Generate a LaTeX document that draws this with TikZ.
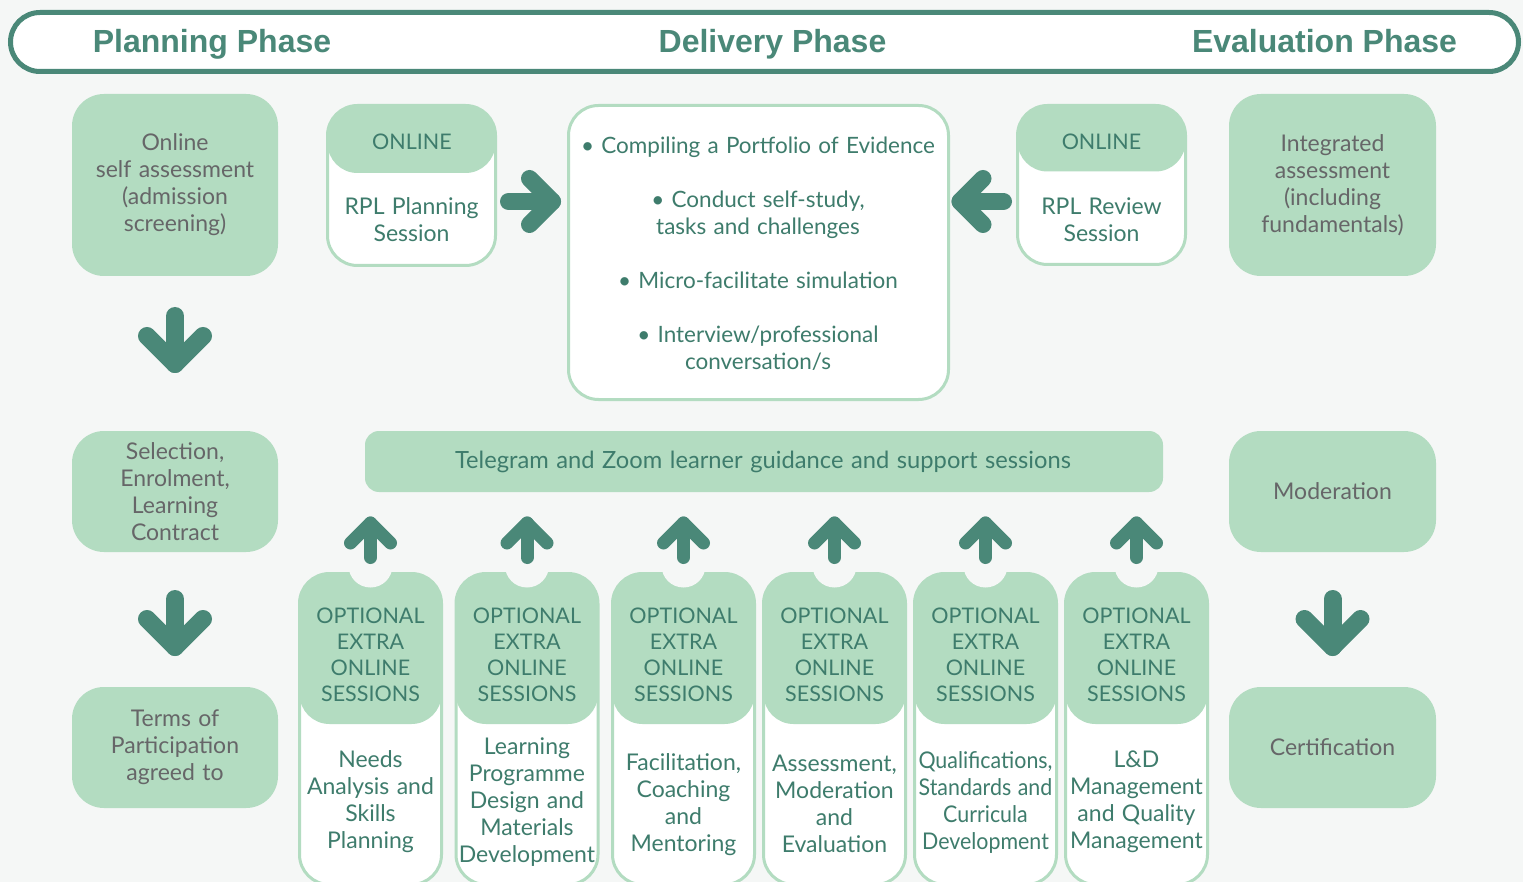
\documentclass[tikz,border=0pt]{standalone}
\usepackage{fontspec}
\setmainfont{Lato}[WordSpace=1.25]
\newfontfamily\headfont{Liberation Sans}
\newfontfamily\condfont{Lato}[FakeStretch=0.93, WordSpace=1.2]
\usetikzlibrary{calc}
\definecolor{bgc}{RGB}{245,247,246}
\definecolor{dg}{RGB}{74,136,120}
\definecolor{lg}{RGB}{179,220,193}
\definecolor{tg}{RGB}{62,124,108}
\definecolor{gy}{RGB}{102,102,104}
\newcommand\myfs{\fontsize{23}{27}\selectfont}
\newcommand\myfsctr{\fontsize{22.5}{27}\selectfont}
\newcommand\myfstel{\fontsize{23.7}{27}\selectfont}
\newcommand\myfscard{\fontsize{21.5}{26}\selectfont}
\begin{document}
\begin{tikzpicture}[x=1pt,y=-1pt,
  every node/.style={outer sep=0pt},
  gbox/.style={fill=lg, rounded corners=32pt, minimum width=206pt, inner sep=0pt, text=gy, align=center, font=\myfs},
  wbox/.style={fill=white, draw=lg, line width=3pt, rounded corners=30pt, inner sep=0pt},
  txt/.style={text=tg, align=center, font=\myfs, inner sep=0pt},
  headtxt/.style={text=dg, font=\headfont\bfseries\fontsize{32}{36}\selectfont, inner sep=0pt, anchor=base},
  bigarr/.style={draw=dg, line width=18pt, line cap=round, line join=round},
  midarr/.style={draw=dg, line width=17pt, line cap=round, line join=round},
  smallarr/.style={draw=dg, line width=13pt, line cap=round, line join=round},
  card/.style={wbox, minimum width=142pt, minimum height=311pt,
    path picture={\fill[lg] (path picture bounding box.north west) rectangle ($(path picture bounding box.north east)+(0,150.5)$);}},
  toptxt/.style={text=tg, align=center, font=\myfscard, inner sep=0pt}
]
\useasboundingbox (0,0) rectangle (1523,882);
\fill[bgc] (0,0) rectangle (1523,882);
\clip (0,0) rectangle (1523,882);

% header
\node[draw=dg, line width=5pt, fill=white, rounded corners=29.5pt, minimum width=1508pt, minimum height=59pt, inner sep=0pt] (hdr) at (764.5,42) {};
\node[headtxt] (hplan) at (212,52.5) {Planning Phase};
\node[headtxt] (hdel) at (772.5,52.5) {Delivery Phase};
\node[headtxt] (heval) at (1324.5,52.5) {Evaluation Phase};

% left column
\node[gbox, minimum height=182pt] (ol) at (175,185) {Online\\self assessment\\(admission\\screening)};
\node[gbox, minimum height=121pt] (sel) at (175,491.5) {Selection,\\Enrolment,\\Learning\\Contract};
\node[gbox, minimum height=121pt] (tp) at (175,747.5) {Terms of\\Participation\\agreed to};

% right column
\node[gbox, minimum height=182pt, minimum width=207pt] (ia) at (1332.5,185) {Integrated\\assessment\\(including\\fundamentals)};
\node[gbox, minimum height=121pt, minimum width=207pt] (mod) at (1332.5,491.5) {Moderation};
\node[gbox, minimum height=121pt, minimum width=207pt] (cert) at (1332.5,747.5) {Certification};

% down arrows
\draw[bigarr] ($(ol.south)+(0,40)$) -- ($(sel.north)+(0,-67)$) coordinate (a1t);
\draw[bigarr] ($(a1t)+(-28,-28)$) -- (a1t) -- ($(a1t)+(28,-28)$);
\draw[bigarr] ($(sel.south)+(0,47)$) -- ($(tp.north)+(0,-40)$) coordinate (a2t);
\draw[bigarr] ($(a2t)+(-28,-28)$) -- (a2t) -- ($(a2t)+(28,-28)$);
\draw[bigarr] ($(mod.south)+(0,47)$) -- ($(cert.north)+(0,-40)$) coordinate (a3t);
\draw[bigarr] ($(a3t)+(-28,-28)$) -- (a3t) -- ($(a3t)+(28,-28)$);

% RPL planning
\node[wbox, minimum width=168pt, minimum height=160pt,
  path picture={\fill[lg] (path picture bounding box.north west) rectangle ($(path picture bounding box.north east)+(0,67.5)$);}] (rplp) at (411.5,185.5) {};
\node[toptxt] (rplpt) at (412,141.5) {ONLINE};
\node[txt] (rplpb) at (411.5,219.5) {RPL Planning\\Session};

% RPL review
\node[wbox, minimum width=168pt, minimum height=159pt,
  path picture={\fill[lg] (path picture bounding box.north west) rectangle ($(path picture bounding box.north east)+(0,66)$);}] (rplr) at (1101.5,185) {};
\node[toptxt] (rplrt) at (1101.5,141.5) {ONLINE};
\node[txt] (rplrb) at (1101.5,219.5) {RPL Review\\Session};

% centre box
\node[wbox, minimum width=380pt, minimum height=294pt] (ctr) at (758.5,252.5) {};
\node[txt, font=\myfsctr] (ctrt) at (758,254) {\textbullet\ Compiling a Portfolio of Evidence\\[27pt]
\textbullet\ Conduct self-study,\\tasks and challenges\\[27pt]
\textbullet\ Micro-facilitate simulation\\[27pt]
\textbullet\ Interview/professional\\conversation/s};

% horizontal arrows
\draw[midarr] ($(rplp.east)+(13,16)$) coordinate (r1s) -- ($(r1s -| ctr.west)+(-16,0)$) coordinate (r1t);
\draw[midarr] ($(r1t)+(-23,-23)$) -- (r1t) -- ($(r1t)+(-23,23)$);
\draw[midarr] ($(rplr.west)+(-14,16.5)$) coordinate (r2s) -- ($(r2s -| ctr.east)+(11.5,0)$) coordinate (r2t);
\draw[midarr] ($(r2t)+(23,-23)$) -- (r2t) -- ($(r2t)+(23,23)$);

% telegram bar
\node[fill=lg, rounded corners=14pt, minimum width=798pt, minimum height=61pt, inner sep=0pt] (tel) at (764,461.5) {};
\node[txt, font=\myfstel] (telt) at (763,462) {Telegram and Zoom learner guidance and support sessions};

% cards
\foreach \cx/\nm in {370.5/c1, 527/c2, 683.5/c3, 834.5/c4, 985.5/c5, 1136.5/c6}{
  \node[card] (\nm) at (\cx,729) {};
  \fill[bgc] ($(\nm.north)+(0,-8)$) circle (22pt);
  \node[toptxt] (\nm t) at (\cx,655) {OPTIONAL\\EXTRA\\ONLINE\\SESSIONS};
  \draw[smallarr] ($(\nm.north)+(0,-16)$) -- ($(\nm.north |- tel.south)+(0,31)$) coordinate (\nm a);
  \draw[smallarr] ($(\nm a)+(-20,20)$) -- (\nm a) -- ($(\nm a)+(20,20)$);
}
\node[txt] (c1b) at (370.5,802) {Needs\\Analysis and\\Skills\\Planning};
\node[txt] (c2b) at (527,802) {Learning\\Programme\\Design and\\Materials\\Development};
\node[txt] (c3b) at (683.5,804.5) {Facilitation,\\Coaching\\and\\Mentoring};
\node[txt] (c4b) at (834.5,804) {Assessment,\\Moderation\\and\\Evaluation};
\node[txt, font=\condfont\myfs] (c5b) at (985.5,802.5) {Qualifications,\\Standards and\\Curricula\\Development};
\node[txt] (c6b) at (1136.5,802) {L\&D\\Management\\and Quality\\Management};
\end{tikzpicture}
\end{document}
